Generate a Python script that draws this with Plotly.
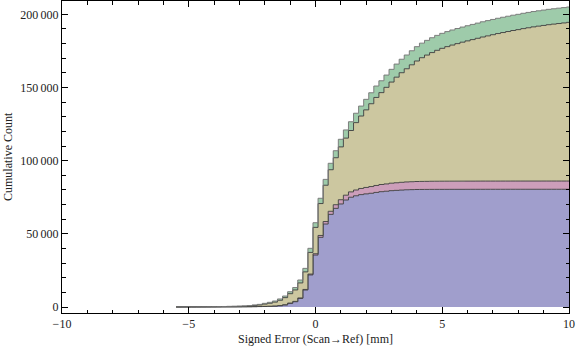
import plotly.graph_objects as go

# Bin left edges (width 0.2, centred on multiples of 0.2)
bin_left = [round(-5.5 + 0.2 * i, 1) for i in range(78)]
bin_right_end = 10.1

# Cumulative counts of each series (own counts; stacked in the chart)
blue_cum = [20, 25, 30, 35, 40, 45, 50, 60, 70, 80, 90, 100, 120, 150, 180, 220, 280, 350, 450, 600,
            850, 1400, 2500, 3600, 5900, 11600, 21900, 35500, 47600, 56700, 63300, 67400, 70400, 73100,
            75000, 76000, 76800, 77300, 77700, 78300, 78800, 79100, 79500, 79700, 79900, 80100, 80200,
            80300, 80330, 80350, 80370, 80380,
            80390, 80395, 80400, 80405, 80410, 80415, 80420, 80425, 80430, 80432, 80434, 80436, 80438,
            80440, 80442, 80444, 80446, 80447, 80448, 80449, 80450, 80450, 80450, 80450, 80450, 80450]
pink_cum = [10, 10, 12, 14, 16, 18, 20, 22, 25, 28, 30, 35, 40, 45, 50, 60, 70, 80, 100, 120,
            140, 170, 200, 240, 280, 400, 600, 900, 1300, 1700, 2100, 2500, 2900, 3300,
            3650, 3950, 4200, 4400, 4600, 4750, 4900, 5000, 5100, 5200, 5300, 5350, 5400,
            5450, 5480, 5500, 5550, 5570,
            5580, 5585, 5590, 5595, 5600, 5602, 5604, 5606, 5608, 5610, 5611, 5612, 5613,
            5614, 5615, 5616, 5617, 5618, 5619, 5620, 5620, 5620, 5620, 5620, 5620, 5620]
olive_cum = [70, 85, 98, 111, 124, 137, 160, 178, 205, 232, 250, 265, 290, 355, 470, 800, 1050, 1570, 2030, 2630,
             3610, 4830, 6400, 7810, 10270, 12000, 14800, 18000, 21800, 24800, 28400, 32100, 36100, 39000,
             41950, 46050, 49500, 53000, 56600, 60150, 62800, 66000, 69100, 72150, 74900, 77350, 79900,
             82350, 84540, 86300, 87930, 89450,
             90780, 91940, 93010, 93980, 94950, 95823, 96696, 97574, 98452, 99238, 100025, 100812, 101499,
             102188, 102878, 103470, 104162, 104755, 105349, 105843, 106339, 106836, 107234, 107632, 108031, 108430]
green_cum = [0, 0, 0, 0, 0, 0, 0, 0, 0, 10, 50, 100, 150, 200, 250, 320, 400, 500, 620, 750,
             900, 1100, 1350, 1650, 2000, 2400, 2800, 3200, 3600, 4000, 4400, 4800, 5200, 5600,
             6000, 6400, 6800, 7200, 7500, 7800, 8100, 8400, 8700, 8950, 9200, 9400, 9600,
             9800, 9950, 10050, 10150, 10200,
             10250, 10280, 10300, 10320, 10340, 10360, 10380, 10395, 10410, 10420, 10430, 10440, 10450,
             10458, 10465, 10470, 10475, 10480, 10484, 10488, 10491, 10494, 10496, 10498, 10499, 10500]

series = [
    ("blue", blue_cum, "rgb(160,158,204)", "rgba(60,60,60,0.9)"),
    ("pink", pink_cum, "rgb(204,158,186)", "rgba(60,60,60,0.9)"),
    ("olive", olive_cum, "rgb(204,199,160)", "rgba(60,60,60,0.9)"),
    ("green", green_cum, "rgb(158,203,170)", "rgba(120,120,120,0.95)"),
]

y_tick_vals = [0, 50000, 100000, 150000, 200000]
y_tick_text = ["0", "50\u2009000", "100\u2009000", "150\u2009000", "200\u2009000"]
x_tick_vals = [-10, -5, 0, 5, 10]

xs = bin_left + [bin_right_end]

fig = go.Figure()
for name, vals, fc, lc in series:
    fig.add_trace(go.Scatter(
        x=xs, y=vals + [vals[-1]], name=name, mode="lines",
        stackgroup="one", line=dict(shape="hv", color=lc, width=1),
        fillcolor=fc, hoverinfo="skip", showlegend=False, cliponaxis=True,
    ))

font = dict(family="Liberation Serif, Times New Roman, serif", size=12, color="#222222")

fig.update_layout(
    width=576, height=353,
    margin=dict(l=62, r=7, t=1, b=40, autoexpand=False),
    paper_bgcolor="white", plot_bgcolor="white",
    font=font,
    xaxis=dict(range=[-10, 10], tickvals=x_tick_vals, ticks="inside", ticklen=6, tickcolor="black",
               showline=True, linecolor="black", linewidth=1, mirror="allticks",
               showgrid=False, zeroline=False, automargin=False,
               minor=dict(dtick=1, ticks="inside", ticklen=3.5, tickcolor="black", showgrid=False),
               tickfont=font),
    yaxis=dict(range=[-4100, 209100], tickvals=y_tick_vals, ticktext=y_tick_text,
               ticks="inside", ticklen=6, tickcolor="black",
               showline=True, linecolor="black", linewidth=1, mirror="allticks",
               showgrid=False, zeroline=False, automargin=False,
               minor=dict(tick0=0, dtick=10000, ticks="inside", ticklen=3.5, tickcolor="black", showgrid=False),
               tickfont=font),
    annotations=[
        dict(text="Signed Error (Scan\u2192Ref) [mm]", x=0.5, y=0, xref="paper", yref="paper",
             xanchor="center", yanchor="top", yshift=-17, showarrow=False, font=font),
        dict(text="Cumulative Count", x=0, y=0.5, xref="paper", yref="paper", textangle=-90,
             xanchor="center", yanchor="middle", xshift=-54, showarrow=False, font=font),
    ],
)

fig.write_html("out.html", config={"displayModeBar": False},
               post_script="document.body.style.margin='0';")
